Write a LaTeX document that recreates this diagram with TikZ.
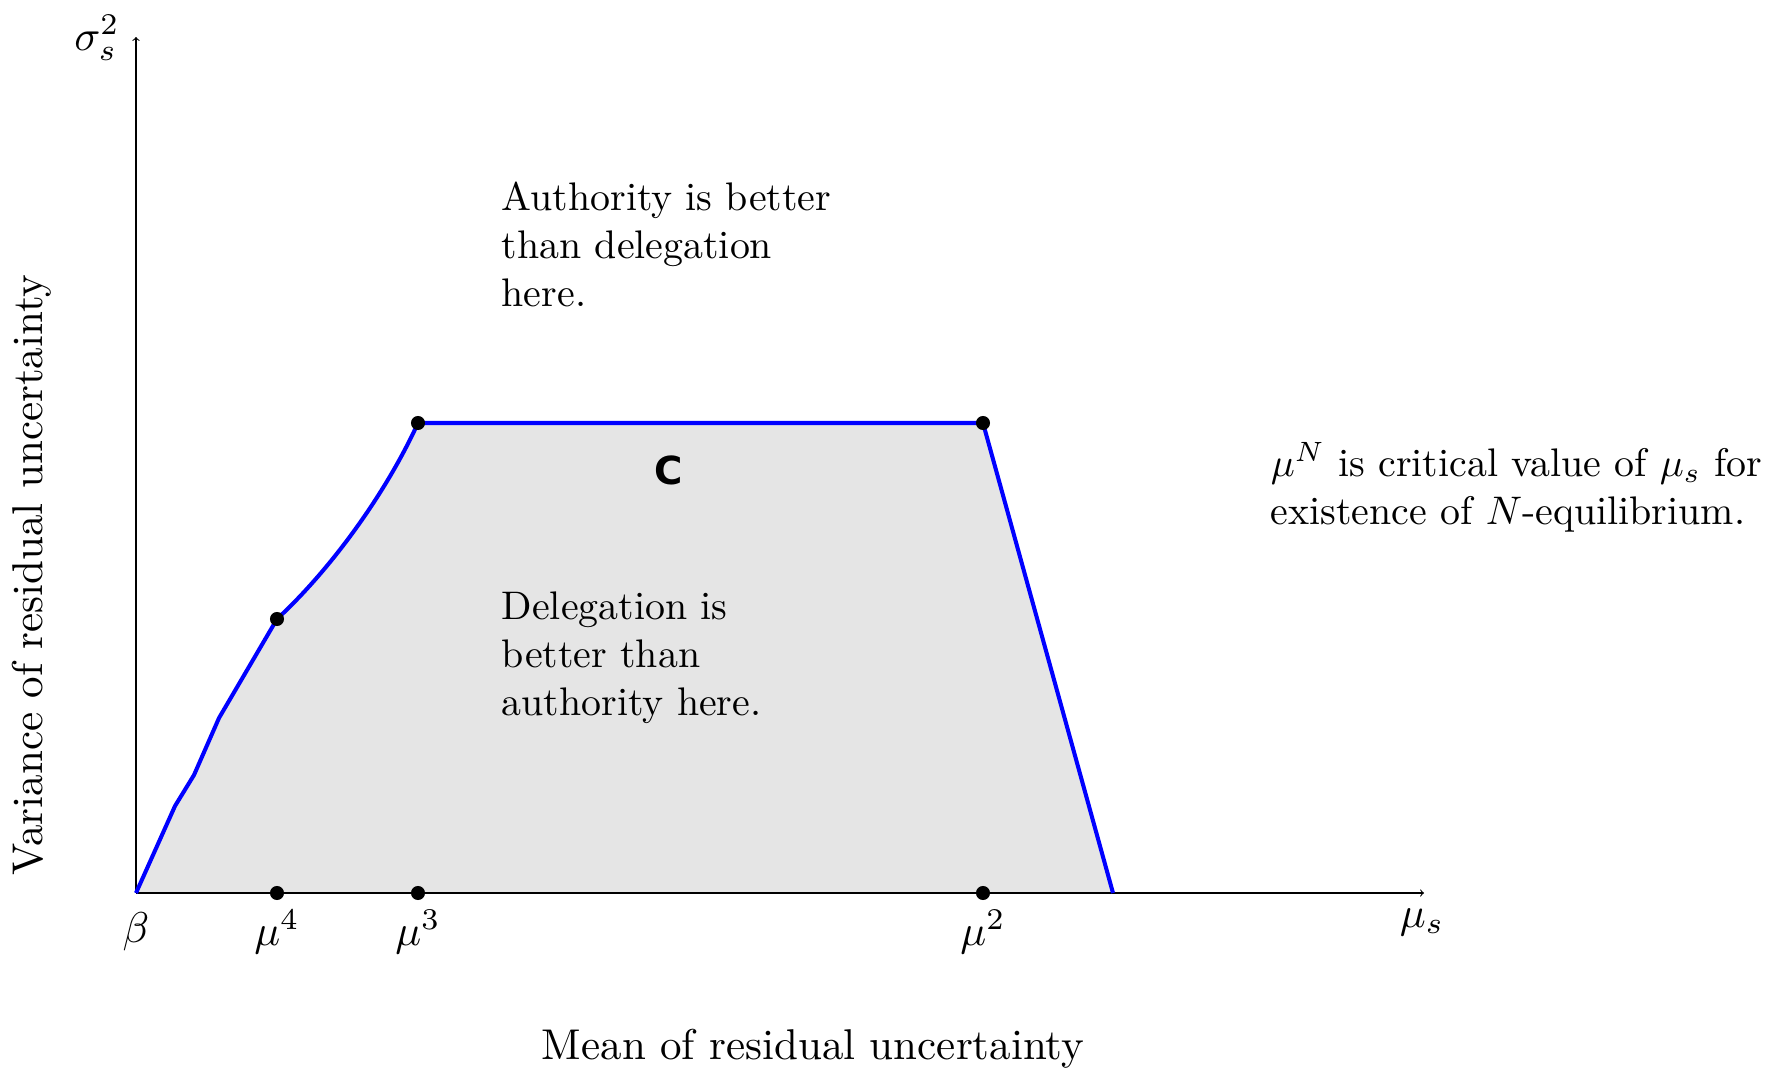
\documentclass[tikz,border=0pt]{standalone}
\usepackage{fontspec}
\newfontfamily\sansbold{DejaVu Sans}
\begin{document}
\begin{tikzpicture}[x=0.02cm,y=-0.02cm,
  txt/.style={font=\fontsize{10}{12}\selectfont, inner sep=0pt, scale=2.27},
  lab/.style={font=\fontsize{10}{12}\selectfont, inner sep=0pt, scale=2.45},
  para/.style={txt, align=left, anchor=north west},
  axis/.style={line width=0.6pt, ->},
  bound/.style={blue, line width=2.3pt, line join=round},
  dot/.style={circle, fill=black, inner sep=0pt, minimum size=8pt}]
\useasboundingbox (0,0) rectangle (1765,1073);
% key coordinates
\coordinate (O) at (136,893);
\coordinate (A) at (277,619);
\coordinate (B) at (418,423);
\coordinate (Cc) at (983,423);
\coordinate (D) at (1113,893);
% shaded region
\fill[black!10] (O) -- (175,806) -- (194,775) -- (219,718) -- (A)
  .. controls (330,570) and (385,495) .. (B) -- (Cc) -- (D) -- cycle;
% axes
\coordinate (xend) at (1424,893);
\coordinate (yend) at (136,37);
\draw[axis] (O) -- (xend);
\draw[axis] (O) -- (yend);
% boundary
\draw[bound] (O) -- (175,806) -- (194,775) -- (219,718) -- (A)
  .. controls (330,570) and (385,495) .. (B) -- (Cc) -- (D);
% dots
\node[dot] (pA) at (A) {};
\node[dot] (pB) at (B) {};
\node[dot] (pC) at (Cc) {};
\node[dot] (p4) at (277,893) {};
\node[dot] (p3) at (418,893) {};
\node[dot] (p2) at (983,893) {};
% axis labels
\node[lab] (sig) at (97,38) {$\sigma_s^2$};
\node[lab] (mus) at (1422,922) {$\mu_s$};
\node[lab] (beta) at (136,932) {$\beta$};
\node[lab] (m4) at (277,932) {$\mu^4$};
\node[lab] (m3) at (418,932) {$\mu^3$};
\node[lab] (m2) at (983,932) {$\mu^2$};
\node[lab, rotate=90] (ylab) at (32,575) {Variance of residual uncertainty};
\node[lab] (xlab) at (813,1049) {Mean of residual uncertainty};
% texts
\node[inner sep=0pt, font=\sansbold\bfseries\fontsize{22}{26}\selectfont] (C) at (669,470) {C};
\node[para] (auth) at (501,181) {Authority is better\\than delegation\\here.};
\node[para] (deleg) at (501,591) {Delegation is\\better than\\authority here.};
\node[para] (note) at (1270,442) {$\mu^N$ is critical value of $\mu_s$ for\\existence of $N$-equilibrium.};
\end{tikzpicture}
\end{document}
